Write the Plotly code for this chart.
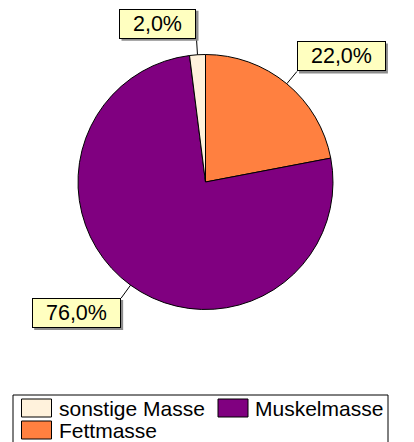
import math
import plotly.graph_objects as go

# ---- data ----
labels = ["sonstige Masse", "Muskelmasse", "Fettmasse"]
values = [2.0, 76.0, 22.0]
colors = ["#FFF2DC", "#800080", "#FF8040"]

# page body has an 8px margin: figure occupies window pixels 8..414 / 8..442
OFF = 8
W, H = 406, 434
FONT = "Liberation Sans, Arial, sans-serif"
FS_LAB = 21.5
FS_LEG = 21

# pie geometry (window pixels)
cx, cy, r = 205.5, 182.0, 127.5

CHAR_W = {",": 0.278, "%": 0.889}


def px(x):
    return (x - OFF) / W


def py(y):
    return 1 - (y - OFF) / H


def text_w(t, fs):
    return sum(CHAR_W.get(ch, 0.556) for ch in t) * fs


# slices are drawn clockwise from 12 o'clock in reverse legend order
pie_labels = labels[::-1]
pie_values = values[::-1]
pie_colors = colors[::-1]

fig = go.Figure()
fig.add_trace(go.Pie(
    labels=pie_labels, values=pie_values, sort=False, direction="clockwise",
    rotation=0,
    marker=dict(colors=pie_colors, line=dict(color="black", width=1)),
    textinfo="none", hoverinfo="label+percent", showlegend=False,
    domain=dict(x=[px(cx - r), px(cx + r)], y=[py(cy + r), py(cy - r)]),
))

shapes = []
annotations = []

# ---- data labels with leader lines ----
total = sum(pie_values)
cum = 0.0
BOX_H = 30
for lab, v in zip(pie_labels, pie_values):
    mid = (cum + v / 2) / total * 2 * math.pi  # clockwise from 12 o'clock
    cum += v
    s, c = math.sin(mid), math.cos(mid)
    x1, y1 = cx + r * s, cy - r * c
    r2 = r + 16
    x2, y2 = cx + r2 * s, cy - r2 * c
    shapes.append(dict(type="line", xref="paper", yref="paper",
                       x0=px(x1), y0=py(y1), x1=px(x2), y1=py(y2),
                       line=dict(color="black", width=1)))
    txt = f"{v / total * 100:.1f}".replace(".", ",") + "%"
    bw = text_w(txt, FS_LAB) + 28
    bx0 = x2 if s > 0 else x2 - bw
    by0 = y2 - BOX_H if c > 0 else y2
    # shadow
    shapes.append(dict(type="rect", xref="paper", yref="paper",
                       x0=px(bx0 + 2), x1=px(bx0 + bw + 2),
                       y0=py(by0 + BOX_H + 2), y1=py(by0 + 2),
                       line=dict(width=0), fillcolor="#8c8c8c"))
    annotations.append(dict(x=px(bx0 + bw / 2), y=py(by0 + BOX_H / 2),
                            xref="paper", yref="paper", text=txt,
                            showarrow=False, xanchor="center", yanchor="middle",
                            width=bw - 6, height=BOX_H - 6, borderpad=2,
                            borderwidth=1, bgcolor="#FFFFC0", bordercolor="black",
                            font=dict(family=FONT, size=FS_LAB, color="black")))

# ---- custom legend ----
shapes.append(dict(type="rect", xref="paper", yref="paper",
                   x0=px(13), x1=px(388), y0=py(446), y1=py(395),
                   line=dict(color="black", width=1), fillcolor="white"))
col_x = [21.5, 218]
row_y = [399, 421]
for i, (lab, col) in enumerate(zip(labels, colors)):
    x0 = col_x[i % 2]
    y0 = row_y[i // 2]
    shapes.append(dict(type="rect", xref="paper", yref="paper",
                       x0=px(x0), x1=px(x0 + 30), y0=py(y0 + 18), y1=py(y0),
                       line=dict(color="black", width=1), fillcolor=col))
    annotations.append(dict(x=px(x0 + 35), y=py(y0 + 9.5), xref="paper", yref="paper",
                            text=lab, showarrow=False, xanchor="left", yanchor="middle",
                            font=dict(family=FONT, size=FS_LEG, color="black")))

fig.update_layout(
    width=W, height=H, margin=dict(l=0, r=0, t=0, b=0),
    paper_bgcolor="white", plot_bgcolor="white",
    shapes=shapes, annotations=annotations, showlegend=False,
)

fig.write_html("out.html")
